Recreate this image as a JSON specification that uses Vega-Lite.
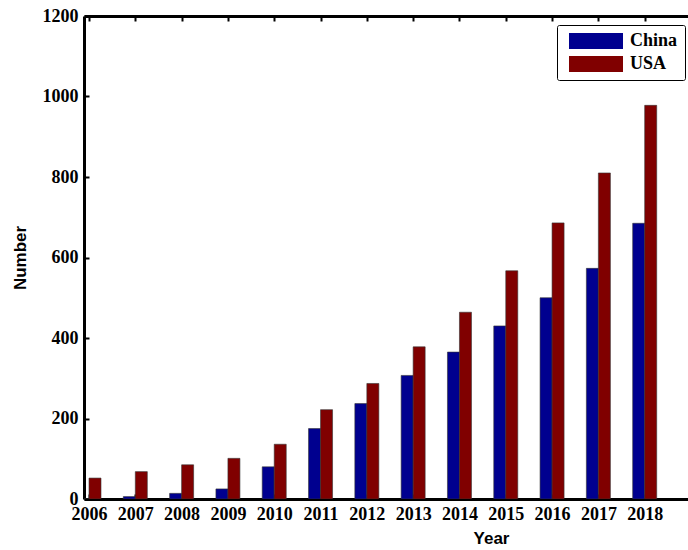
{
  "$schema": "https://vega.github.io/schema/vega-lite/v6.json",
  "width": 612,
  "height": 483,
  "autosize": {"type": "none"},
  "padding": {"left": 84, "top": 16, "right": 0, "bottom": 51},
  "background": "white",
  "config": {
    "view": {"stroke": null},
    "axis": {
      "domainColor": "black",
      "domainWidth": 3,
      "tickColor": "black",
      "tickWidth": 2,
      "tickSize": -5,
      "labelFont": "Liberation Serif",
      "labelFontWeight": "bold",
      "labelFontSize": 18,
      "labelColor": "black",
      "titleFont": "Liberation Sans",
      "titleFontWeight": "bold",
      "titleFontSize": 17,
      "titleColor": "black",
      "grid": false
    }
  },
  "data": {
    "values": [
      {"year": 2006, "country": "China", "number": 0},
      {"year": 2007, "country": "China", "number": 6},
      {"year": 2008, "country": "China", "number": 14},
      {"year": 2009, "country": "China", "number": 25},
      {"year": 2010, "country": "China", "number": 80},
      {"year": 2011, "country": "China", "number": 175},
      {"year": 2012, "country": "China", "number": 237},
      {"year": 2013, "country": "China", "number": 307},
      {"year": 2014, "country": "China", "number": 365},
      {"year": 2015, "country": "China", "number": 430},
      {"year": 2016, "country": "China", "number": 500},
      {"year": 2017, "country": "China", "number": 573},
      {"year": 2018, "country": "China", "number": 685},
      {"year": 2006, "country": "USA", "number": 52},
      {"year": 2007, "country": "USA", "number": 68},
      {"year": 2008, "country": "USA", "number": 85},
      {"year": 2009, "country": "USA", "number": 101},
      {"year": 2010, "country": "USA", "number": 136},
      {"year": 2011, "country": "USA", "number": 222},
      {"year": 2012, "country": "USA", "number": 287},
      {"year": 2013, "country": "USA", "number": 378},
      {"year": 2014, "country": "USA", "number": 464},
      {"year": 2015, "country": "USA", "number": 567},
      {"year": 2016, "country": "USA", "number": 686},
      {"year": 2017, "country": "USA", "number": 810},
      {"year": 2018, "country": "USA", "number": 978}
    ]
  },
  "layer": [
    {
      "transform": [{"filter": "datum.country === 'China'"}],
      "mark": {"type": "bar", "width": 12, "xOffset": -6, "stroke": "#333333", "strokeWidth": 0.6, "clip": true},
      "encoding": {
        "x": {
          "field": "year", "type": "quantitative",
          "scale": {"domain": [2006, 2019], "nice": false, "zero": false},
          "axis": {
            "orient": "bottom",
            "values": [2006, 2007, 2008, 2009, 2010, 2011, 2012, 2013, 2014, 2015, 2016, 2017, 2018],
            "format": "d",
            "labelPadding": 11,
            "labelFlush": false,
            "labelOverlap": false,
            "title": "Year",
            "titleX": 407,
            "titleY": 39,
            "titleBaseline": "middle",
            "titleAnchor": null
          }
        },
        "y": {
          "field": "number", "type": "quantitative",
          "scale": {"domain": [0, 1200], "nice": false},
          "axis": {
            "values": [0, 200, 400, 600, 800, 1000, 1200],
            "format": "d",
            "labelPadding": 11,
            "labelFlush": false,
            "title": "Number",
            "titleX": -64,
            "titleY": 241.5,
            "titleAngle": -90,
            "titleBaseline": "middle",
            "titleAlign": "center"
          }
        },
        "color": {
          "field": "country", "type": "nominal",
          "scale": {"domain": ["China", "USA"], "range": ["#00008F", "#800000"]},
          "legend": {
            "orient": "none",
            "legendX": 473,
            "legendY": 9,
            "title": null,
            "symbolType": "M-3,-0.9H3V0.9H-3Z",
            "symbolSize": 324,
            "symbolStrokeWidth": 0,
            "symbolOffset": 23,
            "labelFont": "Liberation Serif",
            "labelFontWeight": "bold",
            "labelFontSize": 18,
            "labelColor": "black",
            "labelOffset": 25,
            "rowPadding": 5,
            "padding": 7,
            "strokeColor": "black",
            "cornerRadius": 2,
            "encode": {"legend": {"update": {"strokeWidth": {"value": 2}}}}
          }
        }
      }
    },
    {
      "transform": [{"filter": "datum.country === 'USA'"}],
      "mark": {"type": "bar", "width": 12, "xOffset": 6, "stroke": "#333333", "strokeWidth": 0.6, "clip": true},
      "encoding": {
        "x": {
          "field": "year", "type": "quantitative",
          "axis": {
            "orient": "top",
            "values": [2006, 2007, 2008, 2009, 2010, 2011, 2012, 2013, 2014, 2015, 2016, 2017, 2018],
            "labels": false,
            "title": null
          }
        },
        "y": {"field": "number", "type": "quantitative"},
        "color": {"field": "country", "type": "nominal"}
      }
    }
  ]
}
